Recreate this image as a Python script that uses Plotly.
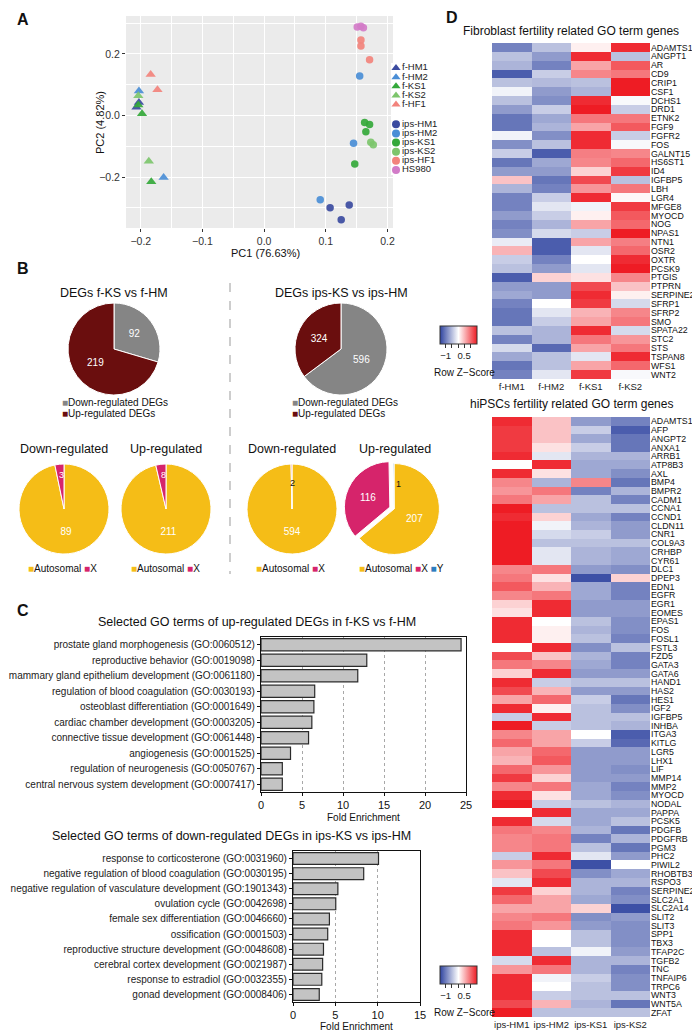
import plotly.graph_objects as go

W, H = 700, 1030
FONT = "Liberation Sans, Arial, sans-serif"
NARROW = "Liberation Sans Narrow, Liberation Sans, Arial, sans-serif"


def fx(px):
    return px / W


def fy(py):
    return 1 - py / H


# ---------------- A: PCA ----------------
pca_groups = ["f-HM1", "f-HM2", "f-KS1", "f-KS2", "f-HF1",
              "ips-HM1", "ips-HM2", "ips-KS1", "ips-KS2", "ips-HF1", "HS980"]
pca_pc1 = [[-0.207, -0.203], [-0.203, -0.163], [-0.204, -0.198, -0.183],
           [-0.204, -0.187], [-0.184, -0.173],
           [0.107, 0.125, 0.138], [0.091, 0.145, 0.155], [0.147, 0.163, 0.171, 0.165],
           [0.173, 0.177], [0.157, 0.157, 0.171], [0.151, 0.157, 0.161]]
pca_pc2 = [[0.027, 0.042], [0.080, -0.201], [0.034, 0.006, -0.215],
           [0.064, -0.148], [0.133, 0.084],
           [-0.299, -0.338, -0.290], [-0.273, -0.090, 0.128], [-0.157, -0.023, -0.029, -0.053],
           [-0.087, -0.095], [0.245, 0.226, 0.181], [0.287, 0.290, 0.285]]
pca_colors = ["#3B4BA0", "#4A8ED6", "#34A83A", "#7DC56C", "#F2837C",
              "#3B4BA0", "#4A8ED6", "#34A83A", "#7DC56C", "#F2837C", "#D27CC8"]
pca_symbols = ["triangle-up"] * 5 + ["circle"] * 6

# ---------------- B: pies ----------------
deg_labels = ["Down-regulated DEGs", "Up-regulated DEGs"]
deg_colors = ["#858585", "#6A0E0E"]
deg_fks = [92, 219]
deg_ips = [596, 324]

chr_labels = ["Autosomal", "X", "Y"]
chr_colors = ["#F5BD17", "#D6246B", "#2E7EBF"]
chr_down_fks = [89, 3]
chr_up_fks = [211, 8]
chr_down_ips = [594, 2]
chr_up_ips = [207, 116, 1]

# ---------------- C: GO bars ----------------
up_terms = ["prostate gland morphogenesis (GO:0060512)",
            "reproductive behavior (GO:0019098)",
            "mammary gland epithelium development (GO:0061180)",
            "regulation of blood coagulation (GO:0030193)",
            "osteoblast differentiation (GO:0001649)",
            "cardiac chamber development (GO:0003205)",
            "connective tissue development (GO:0061448)",
            "angiogenesis (GO:0001525)",
            "regulation of neurogenesis (GO:0050767)",
            "central nervous system development (GO:0007417)"]
up_fold = [24.4, 12.9, 11.8, 6.55, 6.45, 6.2, 5.8, 3.6, 2.6, 2.6]

down_terms = ["response to corticosterone (GO:0031960)",
              "negative regulation of blood coagulation (GO:0030195)",
              "negative regulation of vasculature development (GO:1901343)",
              "ovulation cycle (GO:0042698)",
              "female sex differentiation (GO:0046660)",
              "ossification (GO:0001503)",
              "reproductive structure development (GO:0048608)",
              "cerebral cortex development (GO:0021987)",
              "response to estradiol (GO:0032355)",
              "gonad development (GO:0008406)"]
down_fold = [10.1, 8.35, 5.3, 5.05, 4.3, 4.1, 3.6, 3.5, 3.4, 3.1]

# ---------------- D: heatmaps ----------------
fib_samples = ["f-HM1", "f-HM2", "f-KS1", "f-KS2"]
fib_genes = ["ADAMTS1", "ANGPT1", "AR", "CD9", "CRIP1", "CSF1", "DCHS1", "DRD1", "ETNK2",
             "FGF9", "FGFR2", "FOS", "GALNT15", "HS6ST1", "ID4", "IGFBP5", "LBH", "LGR4",
             "MFGE8", "MYOCD", "NOG", "NPAS1", "NTN1", "OSR2", "OXTR", "PCSK9", "PTGIS",
             "PTPRN", "SERPINE2", "SFRP1", "SFRP2", "SMO", "SPATA22", "STC2", "STS",
             "TSPAN8", "WFS1", "WNT2"]
fib_z = [
    [-1.0, -0.5, 0.1, 1.4], [-0.5, -0.8, 1.4, -0.5], [-0.6, -1.0, 0.6, 1.1],
    [-1.3, -0.4, 0.8, 0.9], [-0.5, -0.55, -0.5, 1.5], [-0.1, -0.8, -0.6, 1.5],
    [-0.5, -0.9, 1.4, -0.05], [-0.8, -0.4, 1.5, -0.4], [-1.1, -0.7, 0.9, 0.9],
    [-1.1, -0.6, 0.6, 1.1], [-0.1, -0.9, 1.4, -0.4], [-0.9, -0.5, 1.4, -0.05],
    [-0.4, -1.3, 0.85, 0.8], [-1.1, -0.7, 0.8, 1.0], [-0.8, -0.8, 0.3, 1.3],
    [0.4, -1.1, 1.2, -0.5], [-0.6, -1.0, 0.7, 0.9], [-1.0, -0.4, 1.4, 0.05],
    [-1.0, -0.2, -0.1, 1.3], [-0.8, -0.4, 0.1, 1.1], [-1.0, -0.6, 0.6, 1.0],
    [-0.9, -0.3, -0.4, 1.5], [-0.15, -1.3, 0.6, 0.85], [0.5, -1.3, -0.2, 1.0],
    [-0.4, -1.0, 0.0, 1.4], [-0.5, -0.8, -0.2, 1.5], [-1.3, 0.3, 0.2, 0.8],
    [-0.8, -0.8, 1.2, 0.4], [-0.7, -0.8, 1.4, 0.1], [-1.0, 0.0, 1.3, -0.3],
    [-1.1, -0.2, 0.5, 0.8], [-1.1, -0.4, 0.6, 0.9], [-0.5, -0.6, 1.4, -0.3],
    [-1.0, -0.6, 0.9, 0.7], [-0.3, -1.2, 0.6, 0.9], [-0.7, -0.5, -0.2, 1.4],
    [-1.1, -0.5, 0.6, 1.0], [-1.0, -0.2, 1.3, -0.05]]

ips_samples = ["ips-HM1", "ips-HM2", "ips-KS1", "ips-KS2"]
ips_genes = ["ADAMTS1", "AFP", "ANGPT2", "ANXA1", "ARRB1", "ATP8B3", "AXL", "BMP4", "BMPR2",
             "CADM1", "CCNA1", "CCND1", "CLDN11", "CNR1", "COL9A3", "CRHBP", "CYR61", "DLC1",
             "DPEP3", "EDN1", "EGFR", "EGR1", "EOMES", "EPAS1", "FOS", "FOSL1", "FSTL3",
             "FZD5", "GATA3", "GATA6", "HAND1", "HAS2", "HES1", "IGF2", "IGFBP5", "INHBA",
             "ITGA3", "KITLG", "LGR5", "LHX1", "LIF", "MMP14", "MMP2", "MYOCD", "NODAL",
             "PAPPA", "PCSK5", "PDGFB", "PDGFRB", "PGM3", "PHC2", "PIWIL2", "RHOBTB3",
             "RSPO3", "SERPINE2", "SLC2A1", "SLC2A14", "SLIT2", "SLIT3", "SPP1", "TBX3",
             "TFAP2C", "TGFB2", "TNC", "TNFAIP6", "TRPC6", "WNT3", "WNT5A", "ZFAT"]
ips_z = [
    [1.4, 0.4, -0.8, -1.0], [1.3, 0.4, -0.4, -1.3], [1.3, 0.4, -0.7, -1.1],
    [1.3, 0.2, -0.4, -1.1], [1.4, -0.2, -0.6, -0.6], [0.0, 1.4, -0.7, -0.7],
    [1.4, 0.2, -0.7, -0.9], [0.8, -0.6, 0.8, -1.1], [0.7, 0.9, -1.0, -0.6],
    [0.9, 0.6, -0.5, -1.0], [1.5, -0.5, -0.5, -0.5], [1.4, 0.3, -0.7, -1.0],
    [1.5, -0.1, -0.6, -0.8], [1.5, -0.3, -0.4, -0.8], [1.5, -0.5, -0.5, -0.5],
    [1.5, -0.2, -0.6, -0.7], [1.5, -0.2, -0.6, -0.7], [0.8, 0.9, -0.8, -0.9],
    [0.9, 0.2, -1.4, 0.3], [1.1, 0.5, -0.7, -1.0], [0.8, 0.9, -0.7, -1.0],
    [0.3, 1.4, -0.8, -0.8], [0.2, 1.4, -0.8, -0.8], [1.4, 0.0, -0.5, -0.9],
    [1.4, 0.1, -0.6, -0.9], [1.4, 0.1, -0.5, -1.0], [0.0, 1.4, -0.9, -0.5],
    [1.2, 0.4, -0.6, -1.0], [0.9, 0.8, -0.7, -1.0], [0.3, 1.4, -0.8, -0.8],
    [1.4, -0.4, -0.5, -0.5], [1.2, 0.5, -0.8, -0.8], [0.6, 1.0, -0.4, -1.1],
    [1.4, 0.1, -0.5, -0.9], [-0.4, 1.4, -0.5, -0.5], [1.5, -0.4, -0.5, -0.6],
    [0.8, 0.6, 0.0, -1.3], [1.0, 0.6, -0.4, -1.2], [0.6, 1.0, -0.8, -0.8],
    [0.5, 1.1, -0.8, -0.8], [1.0, 0.7, -0.8, -0.9], [1.3, 0.3, -0.8, -0.8],
    [0.8, 0.9, -0.7, -1.0], [1.4, 0.2, -0.7, -0.9], [1.5, -0.4, -0.5, -0.6],
    [0.0, 1.4, -0.7, -0.7], [1.4, -0.3, -0.7, -0.5], [0.9, 0.8, -0.6, -1.1],
    [0.8, 0.9, -1.0, -0.6], [0.8, 0.9, -0.5, -1.1], [-0.4, 1.4, -0.2, -0.8],
    [0.7, 0.9, -1.4, 0.0], [0.4, 1.2, -0.9, -0.7], [-0.2, 1.4, -0.6, -0.6],
    [1.3, 0.3, -0.6, -1.0], [1.0, 0.6, -0.7, -0.9], [0.6, 0.6, 0.3, -1.4],
    [0.8, 0.9, -0.9, -0.8], [0.9, 0.7, -0.8, -0.9], [1.4, 0.0, -0.5, -0.9],
    [1.4, 0.0, -0.5, -0.9], [1.4, -0.5, -0.1, -0.8], [-0.3, 1.4, -0.6, -0.6],
    [0.7, 0.9, -0.6, -1.0], [1.4, -0.1, -0.4, -0.9], [1.4, 0.0, -0.5, -0.9],
    [1.4, -0.4, -0.5, -0.5], [1.2, 0.5, -0.6, -1.1], [1.5, -0.5, -0.5, -0.5]]

zscale = [[0, "#2F44A0"], [0.5, "#FFFFFF"], [1, "#EE1C24"]]
key_ticks = [-1, -0.5, 0, 0.5, 1]
key_text = ["\u22121", "", "", "0.5", ""]

fig = go.Figure()

# A scatter
for name, xs, ys, col, sym in zip(pca_groups, pca_pc1, pca_pc2, pca_colors, pca_symbols):
    fig.add_trace(go.Scatter(
        x=xs, y=ys, mode="markers", name=name, showlegend=False,
        marker=dict(color=col, symbol=sym, size=9 if sym == "triangle-up" else 7.5,
                    opacity=0.92, line=dict(width=0)),
        xaxis="x", yaxis="y"))

# A legend (drawn in its own little axis)
legend_rows = [i + (1.15 if i >= 5 else 0) for i in range(len(pca_groups))]
fig.add_trace(go.Scatter(
    x=[5] * len(pca_groups), y=legend_rows, mode="markers+text",
    text=pca_groups, textposition="middle right",
    textfont=dict(family=FONT, size=9.5, color="#222"),
    marker=dict(color=pca_colors, symbol=pca_symbols, size=8, line=dict(width=0)),
    showlegend=False, hoverinfo="skip", xaxis="x6", yaxis="y6"))


# B pies
def pie(values, labels, colors, cx, cy, r, textpos, pull=None):
    return go.Pie(
        values=values, labels=labels, sort=False, direction="clockwise", rotation=0,
        marker=dict(colors=colors, line=dict(color="white", width=1)),
        textinfo="value", textposition=textpos, insidetextorientation="horizontal",
        textfont=dict(family=FONT, size=10, color="white"), pull=pull,
        domain=dict(x=[fx(cx - r), fx(cx + r)], y=[fy(cy + r), fy(cy - r)]),
        showlegend=False)


fig.add_trace(pie(deg_fks, deg_labels, deg_colors, 106, 341, 46, "inside"))
fig.add_trace(pie(deg_ips, deg_labels, deg_colors, 333, 341, 46, "inside"))
fig.add_trace(pie(chr_down_fks, chr_labels[:2], chr_colors[:2], 56, 501, 45, ["inside", "none"]))
fig.add_trace(pie(chr_up_fks, chr_labels[:2], chr_colors[:2], 158, 501, 45, ["inside", "none"]))
fig.add_trace(pie(chr_down_ips, chr_labels[:2], chr_colors[:2], 284, 501, 45, ["inside", "none"]))
fig.add_trace(pie(chr_up_ips, chr_labels, chr_colors, 386, 501, 50, ["inside", "inside", "none"],
                  pull=[0, 0.1, 0]))

# C bars
bar_style = dict(marker=dict(color="#C3C3C3", line=dict(color="#2B2B2B", width=1.2)),
                 orientation="h", showlegend=False)
fig.add_trace(go.Bar(x=up_fold, y=up_terms, xaxis="x2", yaxis="y2", **bar_style))
fig.add_trace(go.Bar(x=down_fold, y=down_terms, xaxis="x3", yaxis="y3", **bar_style))

# D heatmaps
fig.add_trace(go.Heatmap(z=fib_z, x=fib_samples, y=fib_genes, coloraxis="coloraxis",
                         xaxis="x4", yaxis="y4"))
fig.add_trace(go.Heatmap(z=ips_z, x=ips_samples, y=ips_genes, coloraxis="coloraxis2",
                         xaxis="x5", yaxis="y5"))

tick_font = dict(family=FONT, size=10.5, color="#333")
bar_x = dict(showline=True, mirror=True, linecolor="#111", linewidth=1.2, ticks="outside",
             ticklen=3, tickcolor="#111", tickfont=dict(family=FONT, size=11, color="#111"),
             showgrid=True, gridcolor="#A8A8A8", griddash="dot", gridwidth=0.8,
             zeroline=False, dtick=5, tick0=0)
bar_y = dict(showline=True, mirror=True, linecolor="#111", linewidth=1.2, ticks="outside",
             ticklen=3, tickcolor="#111", autorange="reversed",
             tickfont=dict(family=FONT, size=10, color="#222"))
heat_y = dict(side="right", autorange="reversed", ticks="", showgrid=False, zeroline=False,
              tickfont=dict(family=NARROW, size=8.8, color="#111"))
heat_x = dict(ticks="", showgrid=False, zeroline=False,
              tickfont=dict(family=FONT, size=9.5, color="#222"))

HX0, HX1 = 484, 642


def key_bar(py):
    return dict(orientation="h", x=fx(450), xanchor="center", y=fy(py), yanchor="top",
                thickness=18, thicknessmode="pixels", len=37, lenmode="pixels",
                tickvals=key_ticks, ticktext=key_text, ticks="outside", ticklen=4,
                tickwidth=1, tickcolor="#333", tickfont=dict(family=FONT, size=9.5, color="#222"),
                outlinewidth=1, outlinecolor="#333", xpad=0, ypad=0)


fig.update_layout(
    width=W, height=H, template="none",
    margin=dict(l=0, r=0, t=0, b=0),
    paper_bgcolor="white", plot_bgcolor="white",
    font=dict(family=FONT, color="#222"),
    bargap=0.22,
    xaxis=dict(domain=[fx(118), fx(385)], range=[-0.224, 0.209], anchor="y",
               tick0=-0.2, dtick=0.1, tickformat=".1f", ticks="outside", ticklen=3,
               tickcolor="#333", tickfont=tick_font, showgrid=True, gridcolor="white",
               gridwidth=1.2, zeroline=False,
               minor=dict(dtick=0.05, showgrid=True, gridcolor="white", gridwidth=0.5)),
    yaxis=dict(domain=[fy(220), fy(8)], range=[-0.365, 0.323], anchor="x",
               tick0=0, dtick=0.2, tickformat=".1f", ticks="outside", ticklen=3,
               tickcolor="#333", tickfont=tick_font, showgrid=True, gridcolor="white",
               gridwidth=1.2, zeroline=False,
               minor=dict(dtick=0.1, showgrid=True, gridcolor="white", gridwidth=0.5)),
    xaxis2=dict(domain=[fx(253), fx(458)], range=[0, 25], anchor="y2", **bar_x),
    yaxis2=dict(domain=[fy(784), fy(629)], anchor="x2", **bar_y),
    xaxis3=dict(domain=[fx(285), fx(412)], range=[0, 15], anchor="y3", **bar_x),
    yaxis3=dict(domain=[fy(994), fy(843)], anchor="x3", **bar_y),
    xaxis4=dict(domain=[fx(HX0), fx(HX1)], anchor="y4", **heat_x),
    yaxis4=dict(domain=[fy(371), fy(35)], anchor="x4", tickmode="array",
                tickvals=fib_genes, ticktext=fib_genes, **heat_y),
    xaxis5=dict(domain=[fx(HX0), fx(HX1)], anchor="y5", **heat_x),
    yaxis5=dict(domain=[fy(1009), fy(409)], anchor="x5", tickmode="array",
                tickvals=ips_genes, ticktext=ips_genes, **heat_y),
    xaxis6=dict(domain=[fx(383), fx(440)], range=[0, 57], anchor="y6", visible=False),
    yaxis6=dict(domain=[fy(167), fy(55)], range=[11.7, -0.55], anchor="x6", visible=False),
    coloraxis=dict(colorscale=zscale, cmin=-1.5, cmax=1.5, colorbar=key_bar(318)),
    coloraxis2=dict(colorscale=zscale, cmin=-1.5, cmax=1.5, colorbar=key_bar(958)),
)

# grey ggplot panel for A and the dashed divider in B
fig.add_shape(type="rect", xref="x domain", yref="y domain", x0=0, x1=1, y0=0, y1=1,
              fillcolor="#EBEBEB", line=dict(width=0), layer="below")
fig.add_shape(type="line", xref="paper", yref="paper", x0=fx(222), x1=fx(222),
              y0=fy(275), y1=fy(566), line=dict(color="#BDBDBD", width=1.5, dash="dash"))


def note(text, x, y, size=12.5, anchor="center", color="#111", bold=False, angle=0):
    fig.add_annotation(text=f"<b>{text}</b>" if bold else text, x=fx(x), y=fy(y),
                       xref="paper", yref="paper", showarrow=False, xanchor=anchor,
                       yanchor="middle", textangle=angle,
                       font=dict(family=FONT, size=size, color=color))


for letter, x, y in [("A", 7, 11), ("B", 7, 260), ("C", 7, 602), ("D", 436, 10)]:
    note(letter, x, y, size=16, anchor="left", bold=True)

note("PC1 (76.63%)", 257, 245, size=11)
note("PC2 (4.82%)", 92, 115, size=11, angle=-90)

note("DEGs f-KS vs f-HM", 106, 285)
note("DEGs ips-KS vs ips-HM", 333, 285)
for title, x in [("Down-regulated", 56), ("Up-regulated", 158),
                 ("Down-regulated", 284), ("Up-regulated", 387)]:
    note(title, x, 441)


def swatch_legend(labels, colors, x, y, vertical=False):
    parts = [f"<span style='color:{c}'>\u25a0</span>{t}" for t, c in zip(labels, colors)]
    if vertical:
        for i, p in enumerate(parts):
            note(p, x, y + 11 * i, size=10, anchor="left")
    else:
        note(" ".join(parts), x, y, size=10, anchor="left")


swatch_legend(deg_labels, deg_colors, 52, 394, vertical=True)
swatch_legend(deg_labels, deg_colors, 282, 394, vertical=True)
swatch_legend(chr_labels[:2], chr_colors[:2], 18, 560)
swatch_legend(chr_labels[:2], chr_colors[:2], 121, 560)
swatch_legend(chr_labels[:2], chr_colors[:2], 246, 560)
swatch_legend(chr_labels, chr_colors, 349, 560)

# labels of the slices too thin for inside text
note(str(chr_down_fks[1]), 53, 467, size=9, color="white")
note(str(chr_up_fks[1]), 155, 467, size=9, color="white")
note(str(chr_down_ips[1]), 284, 475, size=9, color="#111")
note(str(chr_up_ips[2]), 390, 476, size=9, color="#111")

note("Selected GO terms of up-regulated DEGs in f-KS vs f-HM", 249, 614)
note("Fold Enrichment", 355, 809, size=10)
note("Selected GO terms of down-regulated DEGs in ips-KS vs ips-HM", 223, 828)
note("Fold Enrichment", 348, 1018, size=10)

note("Fibroblast fertility related GO term genes", 563, 23, size=12)
note("hiPSCs fertility related GO term genes", 563, 396, size=12)
note("Row Z\u2212Score", 456, 364, size=10)
note("Row Z\u2212Score", 456, 1004, size=10)

fig.write_html("out.html")
